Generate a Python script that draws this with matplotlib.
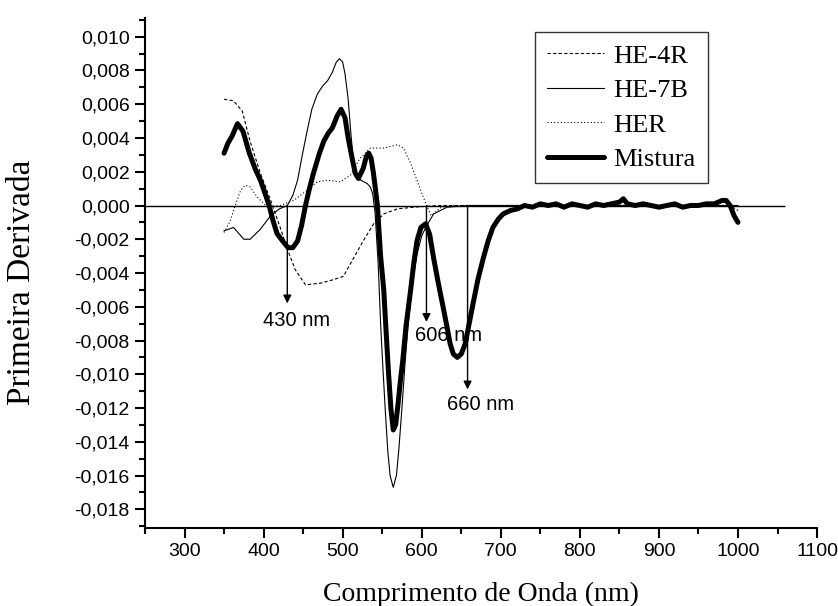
import matplotlib
matplotlib.use('Agg')
import matplotlib.pyplot as plt
from matplotlib.ticker import MultipleLocator, FuncFormatter

# first derivative spectra
he4r_x = [350, 362, 373, 383, 396, 409, 421, 431, 440, 453, 472, 488, 501, 514,
          526, 539, 552, 569, 590, 620, 700, 800, 900, 990, 1000]
he4r_y = [0.0063, 0.0062, 0.0056, 0.0038, 0.0019, 0.0003, -0.0013, -0.0027,
          -0.0038, -0.0047, -0.0046, -0.0044, -0.0042, -0.0031, -0.0021, -0.0011,
          -0.0005, -0.0002, -0.0001, 0.0, 0.0, 0.0, 0.0, 0.0, -0.0003]

he7b_x = [350, 362, 375, 383, 396, 409, 420, 430, 437, 443, 449, 455, 461, 468,
          475, 481, 487, 492, 496, 500, 503, 507, 510, 514, 518, 523, 531, 535,
          538, 541, 545, 548, 551, 554, 557, 560, 564, 568, 571, 575, 579, 583,
          588, 594, 600, 605, 615, 632, 660, 750, 900, 1000]
he7b_y = [-0.0015, -0.0013, -0.0020, -0.0020, -0.0014, -0.0006, -0.0002, 0.0,
          0.0006, 0.0015, 0.0030, 0.0044, 0.0057, 0.0066, 0.0071, 0.0074, 0.0079,
          0.0085, 0.0087, 0.0085, 0.0078, 0.0063, 0.0045, 0.0024, 0.0017, 0.0015,
          0.0013, 0.0011, 0.0007, -0.0004, -0.0035, -0.0070, -0.0097, -0.0122,
          -0.0145, -0.0160, -0.0167, -0.0160, -0.0145, -0.0120, -0.0093, -0.0070,
          -0.0047, -0.0029, -0.0018, -0.0013, -0.0005, -0.0001, 0.0, 0.0, 0.0, 0.0]

her_x = [350, 358, 364, 371, 377, 383, 392, 405, 421, 438, 455, 468, 481, 497,
         510, 522, 535, 552, 569, 577, 586, 594, 602, 607, 612, 625, 640, 800, 1000]
her_y = [-0.0016, -0.0009, 0.0, 0.0009, 0.0012, 0.0011, 0.0005, -0.0001, 0.0,
         0.0003, 0.0009, 0.0014, 0.0015, 0.0014, 0.0018, 0.0028, 0.0034, 0.0034,
         0.0036, 0.0034, 0.0025, 0.0015, 0.0005, -0.0001, -0.0006, -0.0001, 0.0,
         0.0, 0.0]

mist_x = [350, 355, 360, 367, 374, 382, 390, 396, 402, 407, 412, 417, 424, 431,
          437, 443, 448, 453, 458, 463, 470, 476, 482, 487, 493, 498, 503, 507,
          512, 516, 520, 526, 530, 533, 536, 539, 544, 548, 552, 555, 558, 561,
          564, 567, 570, 573, 576, 580, 586, 590, 594, 599, 605, 610, 615, 621,
          627, 632, 636, 640, 645, 650, 655, 660, 665, 671, 678, 684, 690, 697,
          703, 712, 721, 730, 740, 750, 760, 770, 780, 790, 800, 810, 820, 830,
          840, 850, 855, 860, 870, 880, 890, 900, 910, 920, 930, 940, 950, 960,
          970, 980, 985, 990, 995, 1000]
mist_y = [0.0031, 0.0037, 0.0041, 0.00485, 0.0044, 0.0031, 0.0021, 0.0015,
          0.0007, 0.0, -0.0009, -0.00166, -0.0021, -0.0025, -0.0025, -0.0021,
          -0.0012, 0.0, 0.0010, 0.0019, 0.0030, 0.0038, 0.0043, 0.0046, 0.0053,
          0.0057, 0.0052, 0.0040, 0.0028, 0.0019, 0.0016, 0.0022, 0.0029, 0.0031,
          0.0028, 0.0019, 0.0, -0.0030, -0.0050, -0.0075, -0.0099, -0.0120,
          -0.0133, -0.0130, -0.0118, -0.0104, -0.0092, -0.0072, -0.0050, -0.0034,
          -0.0021, -0.0013, -0.00108, -0.0017, -0.0031, -0.0046, -0.0060, -0.0072,
          -0.0082, -0.0088, -0.0090, -0.0088, -0.0082, -0.0070, -0.0058, -0.0044,
          -0.0031, -0.0021, -0.0013, -0.0008, -0.0005, -0.0003, -0.0002, 0.0,
          -0.0001, 0.0001, 0.0, 0.0001, -0.0001, 0.0001, 0.0, -0.0001, 0.0001,
          0.0, 0.0001, 0.0002, 0.0004, 0.0001, 0.0, 0.0001, 0.0, -0.0001, 0.0,
          0.0001, -0.0001, 0.0, 0.0, 0.0001, 0.0001, 0.0003, 0.0003, 0.0,
          -0.0006, -0.0010]

# marked wavelengths: (label, x of arrow, arrow tip y, label x, label y)
marks = [('430 nm', 430, -0.0058, 442, -0.0068),
         ('606 nm', 606, -0.0069, 634, -0.0077),
         ('660 nm', 658, -0.0109, 674, -0.0118)]

fig = plt.figure(figsize=(8.38, 6.06), dpi=100)
ax = fig.add_axes([0.173, 0.129, 0.802, 0.841])

ax.hlines(0, 250, 1060, color='black', lw=1.0)
ax.plot(he4r_x, he4r_y, color='black', lw=0.8, ls=(0, (3, 2)), label='HE-4R')
ax.plot(he7b_x, he7b_y, color='black', lw=0.8, label='HE-7B')
ax.plot(her_x, her_y, color='black', lw=0.8, ls=(0, (1, 2)), label='HER')
ax.plot(mist_x, mist_y, color='black', lw=3.6, solid_joinstyle='round',
        solid_capstyle='round', label='Mistura')

for txt, xa, ytip, xl, yl in marks:
    ax.annotate('', xy=(xa, ytip), xytext=(xa, 0),
                arrowprops=dict(arrowstyle='-|>', color='black', lw=1,
                                mutation_scale=12, shrinkA=0, shrinkB=0))
    ax.text(xl, yl, txt, ha='center', va='center', fontsize=14.5,
            family='Liberation Sans')

ax.set_xlim(250, 1100)
ax.set_ylim(-0.0191, 0.0111)
ax.xaxis.set_minor_locator(MultipleLocator(50))
ax.yaxis.set_major_locator(MultipleLocator(0.002))
ax.yaxis.set_minor_locator(MultipleLocator(0.001))
ax.set_xticks(range(300, 1101, 100))
ax.yaxis.set_major_formatter(FuncFormatter(
    lambda v, p: f'{v:.3f}'.replace('.', ',').replace('-0,000', '0,000')))

for s in ['top', 'right']:
    ax.spines[s].set_visible(False)
for s in ['left', 'bottom']:
    ax.spines[s].set_linewidth(1.5)
ax.tick_params(which='major', direction='out', length=7, width=1.5, pad=4)
ax.tick_params(which='minor', direction='out', length=4, width=1.5)
for lab in ax.get_xticklabels() + ax.get_yticklabels():
    lab.set_family('Liberation Sans')
    lab.set_fontsize(14)

ax.set_xlabel('Comprimento de Onda (nm)', family='Liberation Serif', fontsize=20)
ax.xaxis.set_label_coords(0.5, -0.106)
ax.set_ylabel('Primeira Derivada', family='Liberation Serif', fontsize=24)
ax.yaxis.set_label_coords(-0.160, 0.482)

leg = ax.legend(loc='upper left', bbox_to_anchor=(0.580, 0.9725),
                prop={'family': 'Liberation Serif', 'size': 19},
                frameon=True, fancybox=False, handlelength=2.16,
                handletextpad=0.38, labelspacing=0.42, borderpad=0.45,
                borderaxespad=0)
leg.get_frame().set_edgecolor('black')
leg.get_frame().set_linewidth(1.0)

fig.savefig('out.png', dpi=100)
